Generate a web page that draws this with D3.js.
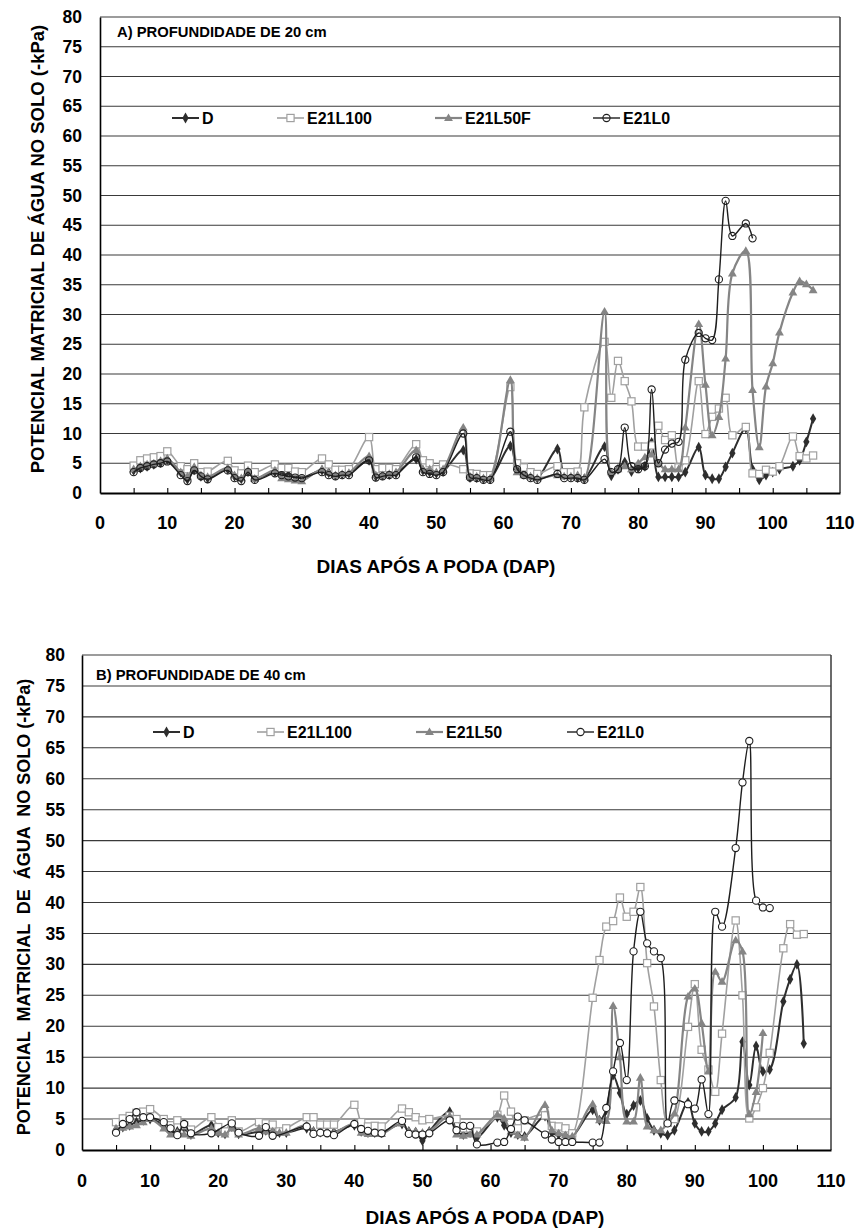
<!DOCTYPE html>
<html>
<head>
<meta charset="utf-8">
<script src="https://cdn.jsdelivr.net/npm/d3@7"></script>
<style>
  body { margin: 0; background: #fff; }
  text { font-family: "Liberation Sans", Arial, sans-serif; font-weight: bold; fill: #000; }
</style>
</head>
<body>
<svg id="fig" width="858" height="1230"></svg>
<script>
// Measurement days (days after pruning)
const days = [5,6,7,8,9,10, 12,13,14,15,16, 19,20,21,22,23, 26,27,28,29,30, 33,34,35,36,37,
  40,41,42,43,44, 47,48,49,50,51, 54,55,56,57,58, 61,62,63,64,65, 68,69,70,71,72,
  75,76,77,78,79,80,81,82,83,84,85,86,87, 89,90,91,92,93,94, 96,97,98,99,100,101, 103,104,105,106];

// Panel A — 20 cm depth (-kPa)
const a_D = [3.8,4.2,4.5,4.8,5.1,5.6, 3.5,2.3,3.9,2.8,2.5, 4.0,2.8,2.4,3.6,2.5, 3.5,3.2,3.0,2.8,2.6,
  3.8,3.4,3.0,3.2,3.3, 5.5,2.8,3.0,3.1,3.3, 5.7,3.8,3.5,3.3,3.6, 7.2,2.6,2.6,2.4,2.4,
  7.9,4.0,3.2,2.8,2.5, 7.4,3.0,2.8,2.6,2.4,
  7.8,2.9,4.0,5.2,3.6,4.2,4.5,8.5,2.7,2.7,2.7,2.7,3.5, 7.7,3.0,2.4,2.4,4.4,6.7,
  10.9,4.0,2.2,3.0,3.5,4.0, 4.5,5.5,8.6,12.5];
const a_E21L100 = [4.6,5.5,5.8,6.0,6.2,7.0, 4.5,4.0,5.0,3.5,3.6, 5.4,3.8,3.3,4.6,3.5, 4.8,4.2,4.2,3.6,3.5,
  5.8,4.8,3.9,3.9,4.0, 9.4,4.0,4.2,4.2,4.0, 8.2,5.5,5.0,4.0,4.8, 4.0,3.3,3.2,3.0,3.0,
  17.8,5.0,4.3,3.5,3.2, 4.5,3.5,3.5,3.6,14.4,
  25.4,16.0,22.2,18.8,15.4,7.8,7.8,8.0,11.3,8.9,9.7,4.3,5.5, 18.8,9.9,12.8,14.2,16.0,9.7,
  11.1,3.3,3.2,3.9,3.6,4.5, 9.5,6.2,5.8,6.3];
const a_E21L50F = [4.0,4.5,4.8,5.0,5.4,5.8, 3.5,2.8,4.4,3.0,2.7, 4.2,3.0,2.5,3.8,2.4, 3.8,2.5,2.3,2.1,2.0,
  4.0,3.4,3.0,3.2,3.4, 6.2,3.0,3.0,3.2,3.5, 7.2,4.0,4.0,3.5,4.0, 11.0,2.8,2.8,2.5,2.5,
  19.0,3.5,3.0,2.8,2.5, 3.0,2.8,2.8,3.0,2.5,
  30.5,3.5,4.0,4.5,4.0,5.0,6.0,6.5,5.0,4.0,4.0,4.0,11.0, 28.4,18.2,9.7,12.8,22.6,36.9,
  40.7,17.3,7.7,17.9,21.8,27.0, 33.7,35.6,35.1,34.1];
const a_E21L0 = [3.5,4.2,4.5,4.8,5.0,5.3, 3.0,2.0,3.8,2.8,2.3, 3.8,2.5,2.0,3.5,2.2, 3.3,3.0,2.8,2.6,2.5,
  3.5,3.0,2.8,3.0,3.0, 5.5,2.6,2.8,3.0,3.0, 6.0,3.5,3.2,3.0,3.5, 10.0,2.6,2.5,2.2,2.2,
  10.3,4.0,3.0,2.5,2.2, 3.2,2.5,2.5,2.5,2.2,
  5.7,3.5,4.0,11.0,4.5,4.0,4.5,17.4,5.0,7.3,8.3,8.6,22.4, 26.9,26.0,25.7,35.9,49.1,43.2,
  45.3,42.8,null,null,null,null, null,null,null,null];

// Panel B — 40 cm depth (-kPa)
const b_D = [3.3,3.7,4.0,4.5,4.8,5.0, 4.0,3.0,3.0,3.5,2.5, 4.0,2.8,2.6,3.8,2.6, 3.0,3.2,3.0,2.8,2.8,
  3.5,3.0,2.9,2.9,2.9, 4.0,3.0,2.8,2.8,2.8, 4.2,3.0,2.9,1.5,3.0, 6.2,3.0,2.5,2.8,2.0,
  5.3,4.0,2.8,2.5,2.2, 5.5,2.8,2.5,2.3,2.2,
  6.5,4.8,6.5,12.1,9.2,5.8,7.2,8.0,5.1,3.2,2.7,2.4,3.2, 7.7,4.3,3.0,3.0,4.3,6.5,
  8.5,17.5,10.5,16.8,12.7,13.0, 24.0,27.6,30.0,17.2];
const b_E21L100 = [4.5,5.1,5.5,6.0,6.2,6.6, 5.0,4.0,4.8,4.0,3.3, 5.3,3.7,3.0,4.8,3.0, 4.5,4.3,4.1,3.0,3.5,
  5.3,5.3,4.1,4.1,4.1, 7.3,4.5,3.8,3.9,3.8, 6.7,6.1,5.3,4.8,5.0, 5.5,5.0,3.5,3.5,3.0,
  5.7,8.8,6.2,3.5,4.8, 5.6,3.9,3.8,3.5,2.7,
  24.6,30.7,36.1,37.0,40.8,37.7,38.5,42.5,30.2,23.2,11.3,4.4,5.0, 19.9,26.8,16.2,13.0,9.4,18.8,
  37.1,25.0,5.1,6.9,10.0,15.7, 32.6,36.5,34.8,34.9];
const b_E21L50 = [3.5,3.6,3.8,4.0,4.5,5.0, 3.5,2.5,2.8,2.5,2.3, 3.5,2.8,2.5,3.5,2.5, 3.5,3.0,3.0,2.8,2.8,
  4.0,3.0,2.8,2.8,2.8, 4.2,2.8,2.6,2.6,2.6, 4.3,3.0,3.0,2.8,3.0, 5.5,2.5,2.3,2.5,2.5,
  5.7,5.1,3.0,2.4,2.0, 7.3,3.2,2.7,2.4,2.2,
  7.4,4.8,4.7,23.3,15.0,4.6,4.6,11.7,3.8,3.2,3.2,4.3,5.9, 24.8,26.1,20.5,12.7,28.8,27.2,
  33.9,32.1,5.8,9.4,18.9,null, null,null,null,null];
const b_E21L0 = [2.8,4.2,5.0,6.1,5.3,5.3, 4.5,3.5,2.4,4.2,2.7, 2.7,null,null,4.3,2.8, 2.3,3.7,2.3,null,null,
  3.8,2.6,2.8,2.7,2.4, 4.2,3.4,3.1,2.8,2.7, 4.7,2.6,2.5,2.5,2.7, 4.8,3.2,3.9,3.9,0.9,
  1.2,1.3,3.4,5.4,4.8, 2.5,1.7,1.3,1.3,1.3,
  1.2,1.2,6.8,12.7,17.3,11.3,32.1,38.5,33.4,32.1,31.0,4.3,8.0, 7.4,6.7,11.4,5.8,38.5,36.1,
  48.8,59.4,66.1,40.3,39.2,39.1, null,null,null,null];

const yTickValues = d3.range(0, 81, 5);
const xLabelValues = d3.range(0, 111, 10);
const xTickValues = d3.range(5, 110, 5);

const svg = d3.select("#fig");

// Series appearance
const styles = {
  D:     { stroke: "#2e2e2e", width: 2.0, marker: "diamond" },
  L100:  { stroke: "#a0a0a0", width: 1.6, marker: "square" },
  L50:   { stroke: "#858585", width: 2.2, marker: "triangle" },
  L0:    { stroke: "#1e1e1e", width: 1.4, marker: "circle" }
};

function drawMarker(g, kind, cx, cy, circleFill) {
  if (kind === "diamond") {
    g.append("path").attr("d", d3.symbol(d3.symbolDiamond, 34)())
      .attr("transform", `translate(${cx},${cy})`).attr("fill", "#2e2e2e");
  } else if (kind === "square") {
    g.append("rect").attr("x", cx - 3.6).attr("y", cy - 3.6).attr("width", 7.2).attr("height", 7.2)
      .attr("fill", "#fff").attr("stroke", "#a0a0a0").attr("stroke-width", 1.2);
  } else if (kind === "triangle") {
    g.append("path").attr("d", d3.symbol(d3.symbolTriangle, 34)())
      .attr("transform", `translate(${cx},${cy + 0.5})`).attr("fill", "#858585");
  } else {
    g.append("circle").attr("cx", cx).attr("cy", cy).attr("r", 3.6)
      .attr("fill", circleFill).attr("stroke", "#1e1e1e").attr("stroke-width", 1.1);
  }
}

function panel(cfg) {
  const x = d3.scaleLinear().domain([0, 110]).range([cfg.left, cfg.right]);
  const y = d3.scaleLinear().domain([0, 80]).range([cfg.bottom, cfg.top]);
  const g = svg.append("g");

  // horizontal gridlines
  g.append("g").selectAll("line").data(yTickValues.filter(v => v > 0)).join("line")
    .attr("x1", cfg.left).attr("x2", cfg.right)
    .attr("y1", d => y(d)).attr("y2", d => y(d))
    .attr("stroke", "#3a3a3a").attr("stroke-width", 1.1);
  // right border
  g.append("line").attr("x1", cfg.right).attr("x2", cfg.right)
    .attr("y1", cfg.top).attr("y2", cfg.bottom)
    .attr("stroke", "#3a3a3a").attr("stroke-width", 1.5);

  // left axis (no tick marks)
  const yAxis = d3.axisLeft(y).tickValues(yTickValues).tickSize(0).tickPadding(cfg.yPad);
  const ya = g.append("g").attr("transform", `translate(${cfg.left},0)`).call(yAxis);
  ya.select(".domain").attr("stroke", "#000").attr("stroke-width", 1.6);
  ya.selectAll("text").attr("font-size", 17.5).attr("font-family", "Liberation Sans, Arial, sans-serif")
    .attr("font-weight", "bold").attr("fill", "#000");

  // bottom axis: inner ticks every 5 days, labels every 10
  const xAxis = d3.axisBottom(x).tickValues(xTickValues).tickSizeInner(-5).tickSizeOuter(0).tickFormat("");
  const xa = g.append("g").attr("transform", `translate(0,${cfg.bottom})`).call(xAxis);
  xa.select(".domain").attr("stroke", "#000").attr("stroke-width", 1.8);
  xa.selectAll(".tick line").attr("stroke", "#000").attr("stroke-width", 1.1);
  g.append("g").selectAll("text").data(xLabelValues).join("text")
    .attr("x", d => x(d)).attr("y", cfg.xLabelY)
    .attr("text-anchor", "middle").attr("font-size", 18).text(d => d);

  // series
  const line = d3.line().x(p => x(p.d)).y(p => y(p.v)).curve(d3.curveCatmullRom.alpha(0.5));
  cfg.series.forEach(s => {
    const st = styles[s.key];
    const pts = days.map((d, i) => ({ d, v: s.values[i] })).filter(p => p.v != null);
    const sg = g.append("g");
    sg.append("path").attr("d", line(pts)).attr("fill", "none")
      .attr("stroke", st.stroke).attr("stroke-width", st.width).attr("stroke-linejoin", "round");
    pts.forEach(p => drawMarker(sg, st.marker, x(p.d), y(p.v), cfg.circleFill));
  });

  // legend
  cfg.series.forEach(s => {
    const st = styles[s.key];
    const lg = g.append("g");
    lg.append("line").attr("x1", s.lx).attr("x2", s.lx + 27)
      .attr("y1", cfg.legendY).attr("y2", cfg.legendY)
      .attr("stroke", st.stroke).attr("stroke-width", st.width);
    drawMarker(lg, st.marker, s.lx + 13.5, cfg.legendY, cfg.circleFill === "none" ? "none" : "#fff");
    lg.append("text").attr("x", s.lx + 30).attr("y", cfg.legendY + 5.8)
      .attr("font-size", 16).text(s.name);
  });

  // panel title
  g.append("text").attr("x", cfg.titleX).attr("y", cfg.titleY)
    .attr("font-size", 14.8).text(cfg.title);

  // axis titles
  g.append("text").attr("transform", `translate(${cfg.yTitleX},${cfg.yTitleY}) rotate(-90)`)
    .attr("text-anchor", "middle").attr("dominant-baseline", "central")
    .attr("font-size", cfg.yTitleSize).style("white-space", "pre").text(cfg.yTitle);
  g.append("text").attr("x", cfg.xTitleX).attr("y", cfg.xTitleY)
    .attr("text-anchor", "middle").attr("font-size", 19).text("DIAS APÓS A PODA (DAP)");
}

panel({
  left: 100, right: 840, top: 17, bottom: 493, yPad: 18, xLabelY: 529,
  title: "A) PROFUNDIDADE DE 20 cm", titleX: 117, titleY: 37,
  yTitle: "POTENCIAL MATRICIAL DE ÁGUA NO SOLO (-kPa)", yTitleX: 37, yTitleY: 249, yTitleSize: 18.5,
  xTitleX: 436, xTitleY: 573, legendY: 118, circleFill: "none",
  series: [
    { key: "D", name: "D", values: a_D, lx: 172 },
    { key: "L100", name: "E21L100", values: a_E21L100, lx: 277 },
    { key: "L50", name: "E21L50F", values: a_E21L50F, lx: 435 },
    { key: "L0", name: "E21L0", values: a_E21L0, lx: 593 }
  ]
});

panel({
  left: 82, right: 831, top: 655, bottom: 1150, yPad: 17, xLabelY: 1187,
  title: "B) PROFUNDIDADE DE 40 cm", titleX: 96, titleY: 680,
  yTitle: "POTENCIAL  MATRICIAL  DE  ÁGUA  NO SOLO (-kPa)", yTitleX: 24, yTitleY: 907, yTitleSize: 18,
  xTitleX: 485, xTitleY: 1224, legendY: 732, circleFill: "#fff",
  series: [
    { key: "D", name: "D", values: b_D, lx: 153 },
    { key: "L100", name: "E21L100", values: b_E21L100, lx: 257 },
    { key: "L50", name: "E21L50", values: b_E21L50, lx: 416 },
    { key: "L0", name: "E21L0", values: b_E21L0, lx: 567 }
  ]
});
</script>
</body>
</html>
